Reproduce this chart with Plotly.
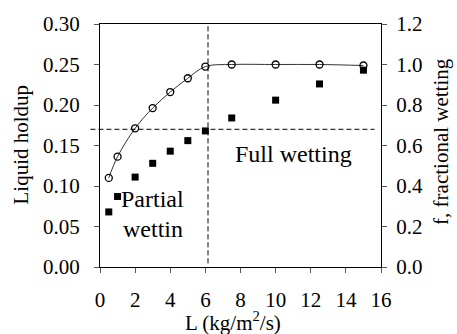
import plotly.graph_objects as go

L_f = [0.5, 1, 2, 3, 4, 5, 6, 7.5, 10, 12.5, 15]
f_wet = [0.44, 0.545, 0.685, 0.785, 0.864, 0.932, 0.99, 1.0, 1.0, 1.0, 0.995]
L_h = [0.5, 1, 2, 3, 4, 5, 6, 7.5, 10, 12.5, 15]
holdup = [0.068, 0.087, 0.111, 0.128, 0.143, 0.156, 0.168, 0.184, 0.206, 0.226, 0.243]
x_ticks = [0, 2, 4, 6, 8, 10, 12, 14, 16]
y_ticks = [0.00, 0.05, 0.10, 0.15, 0.20, 0.25, 0.30]
y2_ticks = [0.0, 0.2, 0.4, 0.6, 0.8, 1.0, 1.2]
L_transition = 6.15
holdup_transition = 0.17

FONT = "Liberation Serif"
F = dict(family=FONT, size=21, color="black")
FA = dict(family=FONT, size=24, color="black")

fig = go.Figure()
fig.add_trace(go.Scatter(
    x=L_h, y=holdup, mode="markers",
    marker=dict(symbol="square", size=7, color="black"),
    yaxis="y", showlegend=False))
fig.add_trace(go.Scatter(
    x=L_f, y=f_wet, mode="lines+markers", line=dict(color="black", width=0.8, shape="spline"),
    marker=dict(symbol="circle-open", size=7, color="black", line=dict(width=1.3)),
    yaxis="y2", showlegend=False))

fig.add_shape(type="line", xref="x", yref="paper", x0=L_transition, x1=L_transition,
              y0=0.015, y1=1, line=dict(color="black", width=1, dash="5px,3px"))
fig.add_shape(type="line", xref="paper", yref="paper", x0=-0.034, x1=0.977,
              y0=holdup_transition / 0.30, y1=holdup_transition / 0.30,
              line=dict(color="black", width=1, dash="5px,3px"))

fig.add_annotation(x=1.06, y=0.0835, xref="x", yref="y", text="Partial", showarrow=False,
                   xanchor="left", yanchor="middle", font=FA)
fig.add_annotation(x=1.22, y=0.0475, xref="x", yref="y", text="wettin", showarrow=False,
                   xanchor="left", yanchor="middle", font=FA)
fig.add_annotation(x=7.6, y=0.139, xref="x", yref="y", text="Full wetting", showarrow=False,
                   xanchor="left", yanchor="middle", font=FA)

# axis titles
fig.add_annotation(x=-0.282, y=0.503, xref="paper", yref="paper", text="Liquid holdup",
                   textangle=-90, showarrow=False, xanchor="center", yanchor="middle", font=F)
fig.add_annotation(x=1.211, y=0.516, xref="paper", yref="paper", text="f, fractional wetting",
                   textangle=-90, showarrow=False, xanchor="center", yanchor="middle", font=F)
fig.add_annotation(x=0.473, y=-0.223, xref="paper", yref="paper", text="L (kg/m<sup>2</sup>/s)",
                   showarrow=False, xanchor="center", yanchor="middle", font=F)

fig.update_layout(
    width=457, height=334,
    margin=dict(l=99.5, r=75.5, t=19, b=67),
    plot_bgcolor="white", paper_bgcolor="white",
    font=F,
    xaxis=dict(range=[0, 16], tickvals=x_ticks, ticks="outside", ticklen=5, tickcolor="#555",
               showline=True, linecolor="black", linewidth=1, mirror=True, showgrid=False,
               zeroline=False, tickfont=F, ticklabelstandoff=9),
    yaxis=dict(range=[0, 0.30], tickvals=y_ticks, tickformat=".2f", ticks="outside", ticklen=5,
               tickcolor="#555", showline=True, linecolor="black", linewidth=1, showgrid=False,
               zeroline=False, tickfont=F, ticklabelstandoff=10),
    yaxis2=dict(range=[0, 1.2], tickvals=y2_ticks, tickformat=".1f", ticks="outside", ticklen=5,
                tickcolor="#555", showline=True, linecolor="black", linewidth=1, showgrid=False,
                zeroline=False, overlaying="y", side="right", tickfont=F, ticklabelstandoff=5),
)

fig.write_html("out.html")
